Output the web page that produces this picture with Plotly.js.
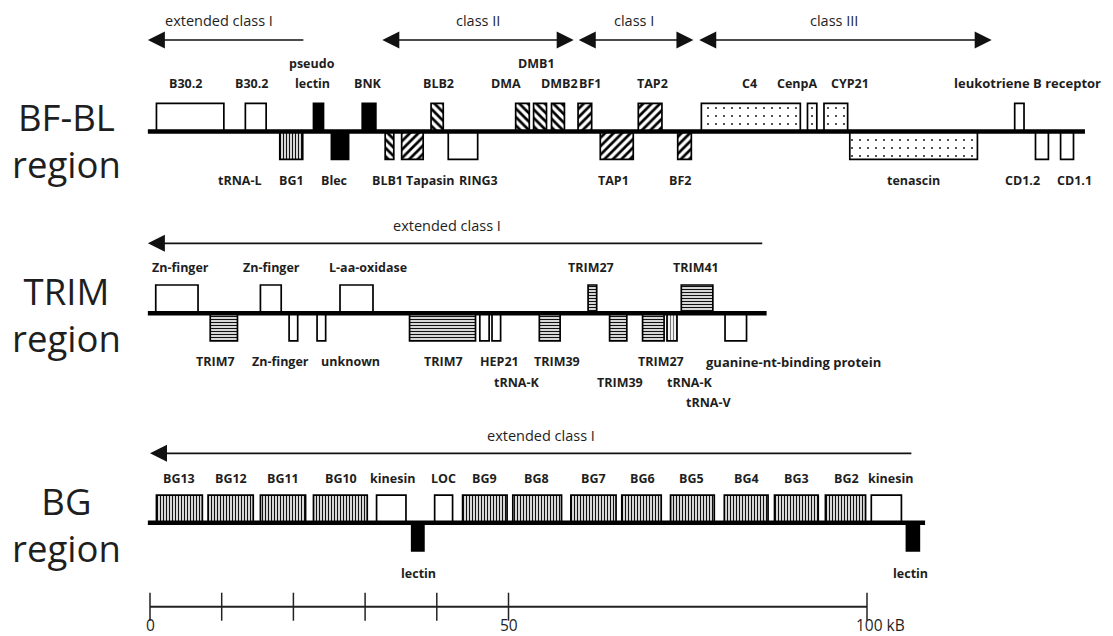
<!DOCTYPE html>
<html><head><meta charset="utf-8">
<script src="https://cdn.plot.ly/plotly-3.0.1.min.js"></script>
<style>html,body{margin:0;padding:0;background:#fff}#chart{width:1113px;height:636px}</style>
</head><body><div id="chart"></div>
<script>
// ================= DATA (positions in kB) =================
// BF-BL region genes
const bfNames  = ['B30.2','B30.2','pseudo lectin','BNK','BLB2','DMA','DMB1','DMB2','BF1','TAP2','C4','CenpA','CYP21','leukotriene B receptor',
                  'BG1','Blec','BLB1','Tapasin','RING3','TAP1','BF2','tenascin','CD1.2','CD1.1'];
const bfStart  = [0.9,13.3,22.8,29.6,39.2,51.0,53.5,56.0,59.7,68.1,76.9,91.7,94.0,120.6, 18.1,25.3,32.8,35.1,41.6,62.8,73.6,97.6,123.5,127.0];
const bfEnd    = [10.3,16.2,24.2,31.5,40.9,52.9,55.3,57.8,61.6,71.4,90.7,93.0,97.3,121.9, 21.3,27.7,34.0,38.1,45.7,67.4,75.5,115.4,125.3,128.8];
const bfStrand = [1,1,1,1,1,1,1,1,1,1,1,1,1,1, -1,-1,-1,-1,-1,-1,-1,-1,-1,-1];
const bfType   = ['white','white','black','black','bs','bs','bs','bs','fs','fs','dot','dot','dot','white',
                  'vl','black','bs','fs','white','fs','fs','dot','white','white'];
const bfLength = 130.4;

// TRIM region genes
const trNames  = ['Zn-finger','Zn-finger','L-aa-oxidase','TRIM27','TRIM41',
                  'TRIM7','Zn-finger','unknown','TRIM7','HEP21','tRNA-K','TRIM39','TRIM39','TRIM27','tRNA-K/tRNA-V','guanine-nt-binding protein'];
const trStart  = [0.8,15.4,26.5,61.1,74.1, 8.4,19.4,23.3,36.2,46.0,47.7,54.3,64.1,68.7,72.1,80.2];
const trEnd    = [6.7,18.3,31.1,62.3,78.5, 12.2,20.6,24.5,45.4,47.3,48.9,57.2,66.5,71.7,73.5,83.2];
const trStrand = [1,1,1,1,1, -1,-1,-1,-1,-1,-1,-1,-1,-1,-1,-1];
const trType   = ['white','white','white','hl','hl', 'hl','white','white','hl','white','white','hl','hl','hl','vlg','white'];
const trLength = 86.0;

// BG region genes
const bgNames  = ['BG13','BG12','BG11','BG10','kinesin','LOC','BG9','BG8','BG7','BG6','BG5','BG4','BG3','BG2','kinesin','lectin','lectin'];
const bgStart  = [0.9,8.1,15.4,22.8,31.6,39.7,43.6,50.6,58.7,65.8,72.6,80.1,87.1,94.2,100.6, 36.5,105.5];
const bgEnd    = [7.3,14.4,21.7,30.3,35.7,42.2,49.8,57.4,65.0,71.3,78.7,86.2,93.2,99.8,104.8, 38.2,107.3];
const bgStrand = [1,1,1,1,1,1,1,1,1,1,1,1,1,1,1, -1,-1];
const bgType   = ['vl','vl','vl','vl','white','white','vl','vl','vl','vl','vl','vl','vl','vl','white','black','black'];
const bgLength = 108.1;

// Labels: text, x (kB), line (negative = above the row, positive = below)
const bfLabText = ['B30.2','B30.2','pseudo','lectin','BNK','BLB2','DMA','DMB1','DMB2','BF1','TAP2','C4','CenpA','CYP21',
                   'tRNA-L','BG1','Blec','BLB1','Tapasin','RING3','TAP1','BF2','tenascin','CD1.2','CD1.1'];
const bfLabX    = [4.9,14.2,22.6,22.6,30.4,40.2,49.7,53.9,57.1,61.4,70.1,83.6,90.3,97.6,
                   12.6,19.8,25.8,33.1,39.1,45.8,64.7,73.9,106.5,121.7,129.0];
const bfLabLine = [-1,-1,-2,-1,-1,-1,-1,-2,-1,-1,-1,-1,-1,-1, 1,1,1,1,1,1,1,1,1,1,1];
const bfLeftLabText = ['leukotriene B receptor'];
const bfLeftLabX = [111.8];

const trLabText = ['Zn-finger','Zn-finger','L-aa-oxidase','TRIM27','TRIM41',
                   'TRIM7','Zn-finger','unknown','TRIM7','HEP21','TRIM39','tRNA-K','TRIM27','TRIM39','tRNA-K','tRNA-V'];
const trLabX    = [4.2,17.0,30.4,61.5,76.2, 9.2,18.2,28.0,41.0,48.7,56.7,51.1,71.2,65.6,75.2,77.9];
const trLabLine = [-1,-1,-1,-1,-1, 1,1,1,1,1,1,2,1,2,2,3];
const trLeftLabText = ['guanine-nt-binding protein'];
const trLeftLabX = [77.3];

const bgLabText = ['BG13','BG12','BG11','BG10','kinesin','LOC','BG9','BG8','BG7','BG6','BG5','BG4','BG3','BG2','kinesin','lectin','lectin'];
const bgLabX    = [4.0,11.3,18.6,26.6,33.8,40.9,46.7,53.9,61.8,68.7,75.5,83.2,90.1,97.1,103.3,37.4,106.1];
const bgLabLine = [-1,-1,-1,-1,-1,-1,-1,-1,-1,-1,-1,-1,-1,-1,-1,1,1];

// Region spans (kB): label, label x, from, to, heads
const bfSpanText = ['extended class I','class II','class I','class III'];
const bfSpanLabX = [9.6,45.7,67.5,95.4];
const bfSpanFrom = [-0.3,32.4,59.8,76.6];
const bfSpanTo   = [21.6,59.3,76.0,117.6];
const bfSpanHead = ['left','both','both','both'];
const trSpanText = ['extended class I'];
const trSpanLabX = [41.4];
const trSpanFrom = [-0.3];
const trSpanTo   = [85.6];
const trSpanHead = ['left'];
const bgSpanText = ['extended class I'];
const bgSpanLabX = [54.6];
const bgSpanFrom = [0];
const bgSpanTo   = [106.4];
const bgSpanHead = ['left'];

const regionNames = ['BF-BL<br>region','TRIM<br>region','BG<br>region'];

// Scale bar
const scaleTicks = [0,10,20,30,40,50,100];
const scaleLabels = ['0','50','100 kB'];
const scaleLabelX = [0,50,100];

// ================= LAYOUT CONSTANTS (px) =================
const PXPERKB = 7.17, ORIGIN = 150, W = 1113, H = 636;
const X0 = -ORIGIN / PXPERKB, X1 = (W - ORIGIN) / PXPERKB;
const rows = [
  {base:131.6, up:28.2, down:27.8, above:83.4, aboveStep:20, below:180, belowStep:20.8, arrow:40, arrowLab:20, regY:140},
  {base:313.3, up:28.3, down:27.6, above:267, aboveStep:20, below:361.7, belowStep:20.6, arrow:243.3, arrowLab:225, regY:314},
  {base:522.7, up:27.6, down:28.3, above:478.3, aboveStep:20, below:573.3, belowStep:20.6, arrow:453.3, arrowLab:435, regY:524}
];
const FONT = '"Open Sans", "Noto Sans", sans-serif';

const styles = {
  white: {color:'white'},
  black: {color:'black'},
  bs:  {color:'white', pattern:{shape:'\\', size:6, solidity:0.45, fgcolor:'black', bgcolor:'white'}},
  fs:  {color:'white', pattern:{shape:'/', size:6, solidity:0.45, fgcolor:'black', bgcolor:'white'}},
  dot: {color:'white', pattern:{shape:'.', size:8, solidity:0.04, fgcolor:'black', bgcolor:'white'}},
  vl:  {color:'white', pattern:{shape:'|', size:3, solidity:0.45, fgcolor:'#111', bgcolor:'white'}},
  hl:  {color:'white', pattern:{shape:'-', size:3, solidity:0.45, fgcolor:'#111', bgcolor:'white'}},
  vlg: {color:'white', pattern:{shape:'|', size:3, solidity:0.4, fgcolor:'#777', bgcolor:'white'}}
};

const datasets = [
  {names:bfNames, s:bfStart, e:bfEnd, strand:bfStrand, type:bfType, len:bfLength},
  {names:trNames, s:trStart, e:trEnd, strand:trStrand, type:trType, len:trLength},
  {names:bgNames, s:bgStart, e:bgEnd, strand:bgStrand, type:bgType, len:bgLength}
];

const traces = [];
Object.keys(styles).forEach(function(k){
  const x=[], w=[], y=[], b=[], t=[];
  datasets.forEach(function(d, r){
    const row = rows[r];
    d.names.forEach(function(n, i){
      if (d.type[i] !== k) return;
      x.push((d.s[i]+d.e[i])/2); w.push(d.e[i]-d.s[i]);
      b.push(row.base); y.push(d.strand[i] > 0 ? -row.up : row.down); t.push(n);
    });
  });
  if (!x.length) return;
  const m = {color: styles[k].color, line:{color:'black', width:1.7}};
  if (styles[k].pattern) m.pattern = styles[k].pattern;
  traces.push({type:'bar', x:x, y:y, base:b, width:w, text:t, textposition:'none', marker:m, hoverinfo:'skip'});
});
datasets.forEach(function(d, r){
  traces.push({type:'scatter', mode:'lines', x:[-0.3, d.len], y:[rows[r].base, rows[r].base],
    line:{color:'black', width:4.5}, hoverinfo:'skip'});
});
traces.push({type:'scatter', mode:'lines', x:[scaleTicks[0], scaleTicks[scaleTicks.length-1]], y:[606.7,606.7],
  line:{color:'#222', width:2}, hoverinfo:'skip'});
traces.push({type:'scatter', mode:'markers', x:scaleTicks, y:scaleTicks.map(function(){return 606.7;}),
  marker:{symbol:'line-ns', size:20, line:{color:'#222', width:1.5}}, hoverinfo:'skip'});

const ann = [];
function lab(text, x, y, anchor, size, bold){
  ann.push({x:x, y:y, xref:'x', yref:'y', text: bold ? '<b>'+text+'</b>' : text, showarrow:false,
    xanchor:anchor||'center', yanchor:'middle', font:{family:FONT, size:size||13, color:'#1e1e1e'}});
}
function rowLabels(texts, xs, lines, row){
  texts.forEach(function(t, i){
    const ln = lines[i];
    const y = ln < 0 ? row.above + (ln+1)*row.aboveStep : row.below + (ln-1)*row.belowStep;
    lab(t, xs[i], y, 'center', 12.5, true);
  });
}
rowLabels(bfLabText, bfLabX, bfLabLine, rows[0]);
bfLeftLabText.forEach(function(t,i){ lab(t, bfLeftLabX[i], rows[0].above, 'left', 13, true); });
rowLabels(trLabText, trLabX, trLabLine, rows[1]);
trLeftLabText.forEach(function(t,i){ lab(t, trLeftLabX[i], rows[1].below, 'left', 13, true); });
rowLabels(bgLabText, bgLabX, bgLabLine, rows[2]);

function spans(texts, labX, from, to, heads, row){
  texts.forEach(function(t, i){
    const both = heads[i] === 'both';
    ann.push({x:from[i], y:row.arrow, ax:to[i], ay:row.arrow, xref:'x', yref:'y', axref:'x', ayref:'y',
      text:'', showarrow:true, arrowhead:2, arrowsize:2, arrowwidth:1.7, arrowcolor:'#111',
      arrowside: both ? 'end+start' : 'end', startarrowhead:2, startarrowsize:2, standoff:0, startstandoff:0});
    lab(t, labX[i], row.arrowLab, 'center', 14.5, false);
  });
}
spans(bfSpanText, bfSpanLabX, bfSpanFrom, bfSpanTo, bfSpanHead, rows[0]);
spans(trSpanText, trSpanLabX, trSpanFrom, trSpanTo, trSpanHead, rows[1]);
spans(bgSpanText, bgSpanLabX, bgSpanFrom, bgSpanTo, bgSpanHead, rows[2]);

regionNames.forEach(function(t, r){
  ann.push({x:66/W, y:rows[r].regY, xref:'paper', yref:'y', text:t, showarrow:false, xanchor:'center', yanchor:'middle',
    align:'center', font:{family:FONT, size:36.5, color:'#1e1e1e'}});
});

scaleLabels.forEach(function(t, i){
  ann.push({x:scaleLabelX[i], y:625, xref:'x', yref:'y', text:t, showarrow:false,
    xanchor: i === scaleLabels.length-1 ? 'left' : 'center', xshift: i === scaleLabels.length-1 ? -13 : 0,
    yanchor:'middle', font:{family:FONT, size:15.5, color:'#1e1e1e'}});
});

const layout = {
  width:W, height:H, margin:{l:0,r:0,t:0,b:0},
  xaxis:{range:[X0, X1], visible:false, fixedrange:true},
  yaxis:{range:[H, 0], visible:false, fixedrange:true},
  barmode:'overlay', bargap:0, showlegend:false,
  plot_bgcolor:'white', paper_bgcolor:'white', annotations:ann
};
Plotly.newPlot('chart', traces, layout, {staticPlot:true, displayModeBar:false});
</script>
</body></html>
